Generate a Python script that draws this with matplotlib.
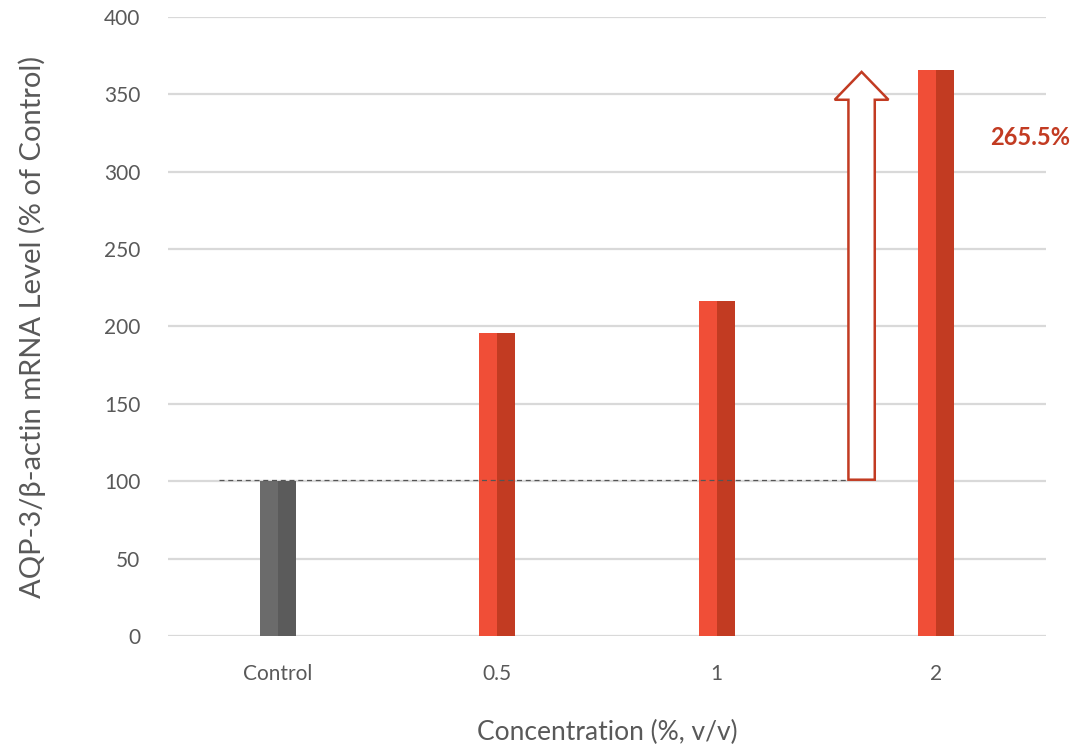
import numpy as np
import matplotlib.pyplot as plt
from matplotlib.patches import FancyArrow

plt.rcParams['font.family'] = ['Lato', 'DejaVu Sans']

categories = ["Control", "0.5", "1", "2"]
values = [100, 196, 216.5, 365.5]
increase_label = "265.5%"

light = ["#6B6B6B", "#F04E37", "#F04E37", "#F04E37"]
dark = ["#5B5B5B", "#C23B22", "#C23B22", "#C23B22"]

fig = plt.figure(figsize=(10.73, 7.51), dpi=100)
ax = fig.add_axes([0.1566, 0.1531, 0.8182, 0.8243])

x = np.arange(len(categories))
w = 0.165
ax.bar(x - w / 4, values, width=w / 2, color=light, zorder=3)
ax.bar(x + w / 4, values, width=w / 2, color=dark, zorder=3)

ax.set_xlim(-0.5, 3.5)
ax.set_ylim(0, 400)
ax.set_yticks(np.arange(0, 401, 50))
ax.set_xticks(x)
ax.set_xticklabels(categories)
ax.grid(axis="y", color="#D9D9D9", lw=1.6, zorder=0)
ax.set_axisbelow(True)
for s in ax.spines.values():
    s.set_visible(False)
ax.tick_params(length=0, colors="#595959", labelsize=15)
ax.tick_params(axis="y", pad=20)
ax.tick_params(axis="x", pad=20)

ax.set_ylabel("AQP-3/β-actin mRNA Level (% of Control)", fontsize=21, color="#595959", labelpad=42)
ax.set_xlabel("Concentration (%, v/v)", fontsize=19, color="#595959", labelpad=26)

# baseline reference
ax.plot([-0.27, 2.6], [values[0] + 1, values[0] + 1], ls="--", color="#555555", lw=0.9, dashes=(4, 3), zorder=4)

# increase arrow
arr = FancyArrow(2.66, values[0] + 1, 0, values[3] - values[0] - 2, width=0.12,
                 head_width=0.245, head_length=18, length_includes_head=True,
                 facecolor="white", edgecolor="#C23B22", lw=1.8, zorder=5)
ax.add_patch(arr)
ax.text(3.43, 322, increase_label, color="#C23B22", fontsize=17, fontweight="bold",
        ha="center", va="center")

fig.savefig("out.png", dpi=100)
